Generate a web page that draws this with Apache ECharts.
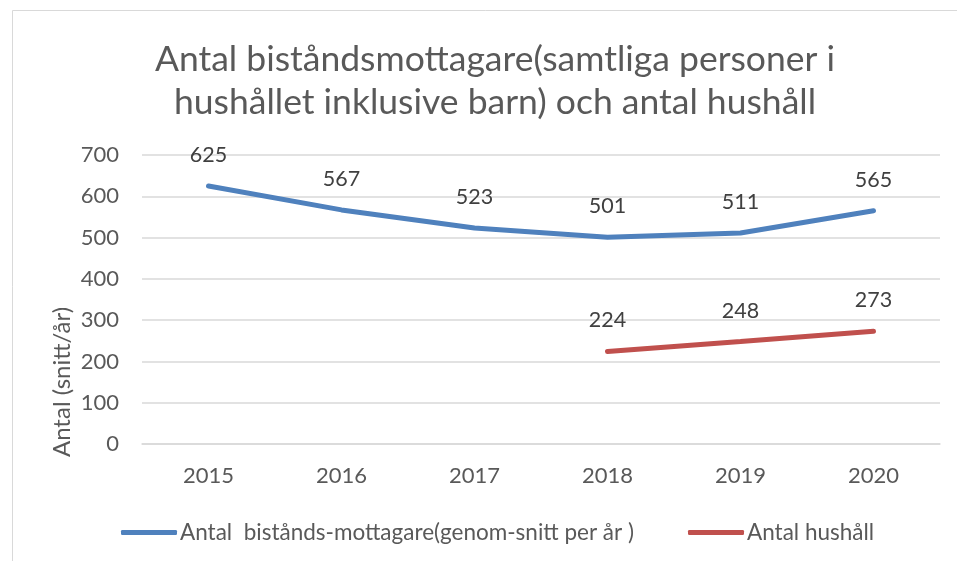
<!DOCTYPE html>
<html>
<head>
<meta charset="utf-8">
<script src="https://cdn.jsdelivr.net/npm/echarts@6/dist/echarts.min.js"></script>
<style>
  html, body { margin: 0; padding: 0; background: #fff; }
  #chart { width: 957px; height: 561px; }
</style>
</head>
<body>
<div id="chart"></div>
<script>
const years = ['2015', '2016', '2017', '2018', '2019', '2020']
const mottagare = [625, 567, 523, 501, 511, 565]
const hushall = [null, null, null, 224, 248, 273]
const seriesNames = ['Antal  bistånds-mottagare(genom-snitt per år )', 'Antal hushåll']

const font = 'Lato, sans-serif'

const chart = echarts.init(document.getElementById('chart'))

const lineSeries = (name, data, color) => ({
  name,
  type: 'line',
  data,
  symbol: 'circle',
  symbolSize: 2,
  showSymbol: true,
  lineStyle: { color, width: 5, cap: 'round' },
  itemStyle: { color },
  label: {
    show: true,
    position: 'top',
    distance: 19,
    color: '#404040',
    fontSize: 21.5,
    fontFamily: font
  }
})

chart.setOption({
  backgroundColor: '#fff',
  animation: false,
  title: {
    text: 'Antal biståndsmottagare(samtliga personer i\nhushållet inklusive barn) och antal hushåll',
    left: 490,
    top: 33,
    textAlign: 'center',
    textStyle: {
      color: '#595959',
      fontSize: 35.5,
      fontWeight: 'normal',
      fontFamily: font,
      lineHeight: 43
    }
  },
  legend: {
    top: 516,
    left: 116,
    itemWidth: 56,
    itemHeight: 5,
    itemGap: 54,
    icon: 'roundRect',
    textStyle: { color: '#595959', fontSize: 22.5, fontFamily: font, padding: [0, 0, 0, -2] },
    data: seriesNames
  },
  grid: { left: 142, right: 17, top: 155, bottom: 117 },
  xAxis: {
    type: 'category',
    data: years,
    axisLine: { show: true, lineStyle: { color: '#d9d9d9', width: 1.5 } },
    axisTick: { show: false },
    axisLabel: { color: '#595959', fontSize: 22, fontFamily: font, margin: 21 }
  },
  yAxis: {
    type: 'value',
    min: 0,
    max: 700,
    interval: 100,
    axisLine: { show: false },
    axisTick: { show: false },
    splitLine: { lineStyle: { color: '#d9d9d9', width: 1.5 } },
    axisLabel: { color: '#595959', fontSize: 22, fontFamily: font, margin: 23 }
  },
  graphic: [
    {
      type: 'rect',
      shape: { x: 12.5, y: 10.5, width: 1000, height: 600 },
      style: { fill: 'none', stroke: '#d9d9d9', lineWidth: 1 },
      silent: true
    },
    {
      type: 'text',
      x: 62,
      y: 382,
      rotation: Math.PI / 2,
      style: {
        text: 'Antal (snitt/år)',
        fill: '#595959',
        fontSize: 24,
        fontFamily: font,
        align: 'center',
        verticalAlign: 'middle'
      }
    }
  ],
  series: [
    lineSeries(seriesNames[0], mottagare, '#4F81BD'),
    lineSeries(seriesNames[1], hushall, '#C0504D')
  ]
})
</script>
</body>
</html>
